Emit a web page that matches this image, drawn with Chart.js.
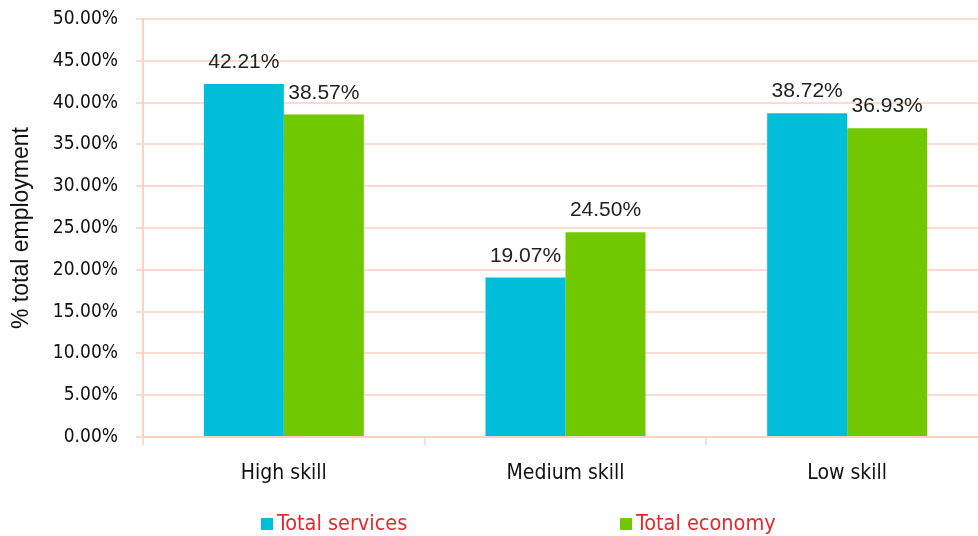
<!DOCTYPE html>
<html>
<head>
<meta charset="utf-8">
<script src="https://cdn.jsdelivr.net/npm/chart.js@4/dist/chart.umd.min.js"></script>
<style>
  html, body { margin: 0; padding: 0; background: #fff; }
  #wrap { width: 978px; height: 536px; overflow: hidden; }
</style>
</head>
<body>
<div id="wrap"><canvas id="myChart" width="988" height="536"></canvas></div>
<script>
var categories = ["High skill", "Medium skill", "Low skill"];
var totalServices = [42.21, 19.07, 38.72];
var totalEconomy = [38.57, 24.50, 36.93];
var seriesNames = ["Total services", "Total economy"];

var gridPink = '#fcdcd0';
var tickFont = '"DejaVu Sans Condensed", "DejaVu Sans", Verdana, sans-serif';

// value labels on top of the bars
var valueLabels = {
    id: 'valueLabels',
    afterDatasetsDraw: function (chart) {
        var ctx = chart.ctx;
        ctx.save();
        ctx.font = '21px "Liberation Sans", Arial, sans-serif';
        ctx.fillStyle = '#222';
        ctx.textAlign = 'center';
        ctx.textBaseline = 'alphabetic';
        chart.data.datasets.forEach(function (ds, i) {
            chart.getDatasetMeta(i).data.forEach(function (bar, j) {
                ctx.fillText(ds.data[j].toFixed(2) + '%', bar.x, bar.y - 16);
            });
        });
        ctx.restore();
    }
};

// legend drawn by hand so the two items sit far apart
var spreadLegend = {
    id: 'spreadLegend',
    afterDraw: function (chart) {
        var ctx = chart.ctx;
        var xs = [261, 620];
        ctx.save();
        ctx.font = '21.5px ' + tickFont;
        ctx.textBaseline = 'middle';
        chart.data.datasets.forEach(function (ds, i) {
            ctx.fillStyle = ds.backgroundColor;
            ctx.fillRect(xs[i], 518, 12, 12);
            ctx.fillStyle = '#e8272c';
            ctx.fillText(ds.label, xs[i] + 16, 524);
        });
        ctx.restore();
    }
};

var ctx = document.getElementById('myChart').getContext('2d');
var myChart = new Chart(ctx, {
    type: 'bar',
    data: {
        labels: categories,
        datasets: [{
                label: seriesNames[0],
                data: totalServices,
                backgroundColor: '#00bed9',
                categoryPercentage: 0.568,
                barPercentage: 1.0
            },
            {
                label: seriesNames[1],
                data: totalEconomy,
                backgroundColor: '#72c800',
                categoryPercentage: 0.568,
                barPercentage: 1.0
            }
        ]
    },
    options: {
        responsive: false,
        animation: false,
        layout: { padding: { top: 19, left: 0, right: 0, bottom: 0 } },
        plugins: {
            legend: { display: false },
            tooltip: { enabled: false }
        },
        scales: {
            x: {
                grid: {
                    offset: true,
                    drawOnChartArea: false,
                    drawTicks: true,
                    tickLength: 8,
                    tickColor: gridPink,
                    lineWidth: 2
                },
                border: { color: '#fbd2c4', width: 2 },
                ticks: {
                    color: '#111',
                    padding: 16,
                    font: { family: tickFont, size: 21 }
                },
                afterFit: function (scale) { scale.height = 99; }
            },
            y: {
                min: 0,
                max: 50,
                grid: {
                    color: gridPink,
                    lineWidth: 2,
                    tickLength: 7,
                    tickColor: gridPink
                },
                border: { color: '#fbd2c4', width: 2 },
                ticks: {
                    stepSize: 5,
                    color: '#111',
                    padding: 18,
                    font: { family: tickFont, size: 19 },
                    callback: function (v) { return v.toFixed(2) + '%'; }
                },
                title: {
                    display: true,
                    text: '% total employment',
                    color: '#111',
                    padding: { top: 8, bottom: 0 },
                    font: { family: '"Liberation Sans", Arial, sans-serif', size: 23 }
                },
                afterFit: function (scale) {
                    scale.width = 143;
                    scale.paddingTop = 0;
                    scale.paddingBottom = 0;
                }
            }
        }
    },
    plugins: [valueLabels, spreadLegend]
});
</script>
</body>
</html>
